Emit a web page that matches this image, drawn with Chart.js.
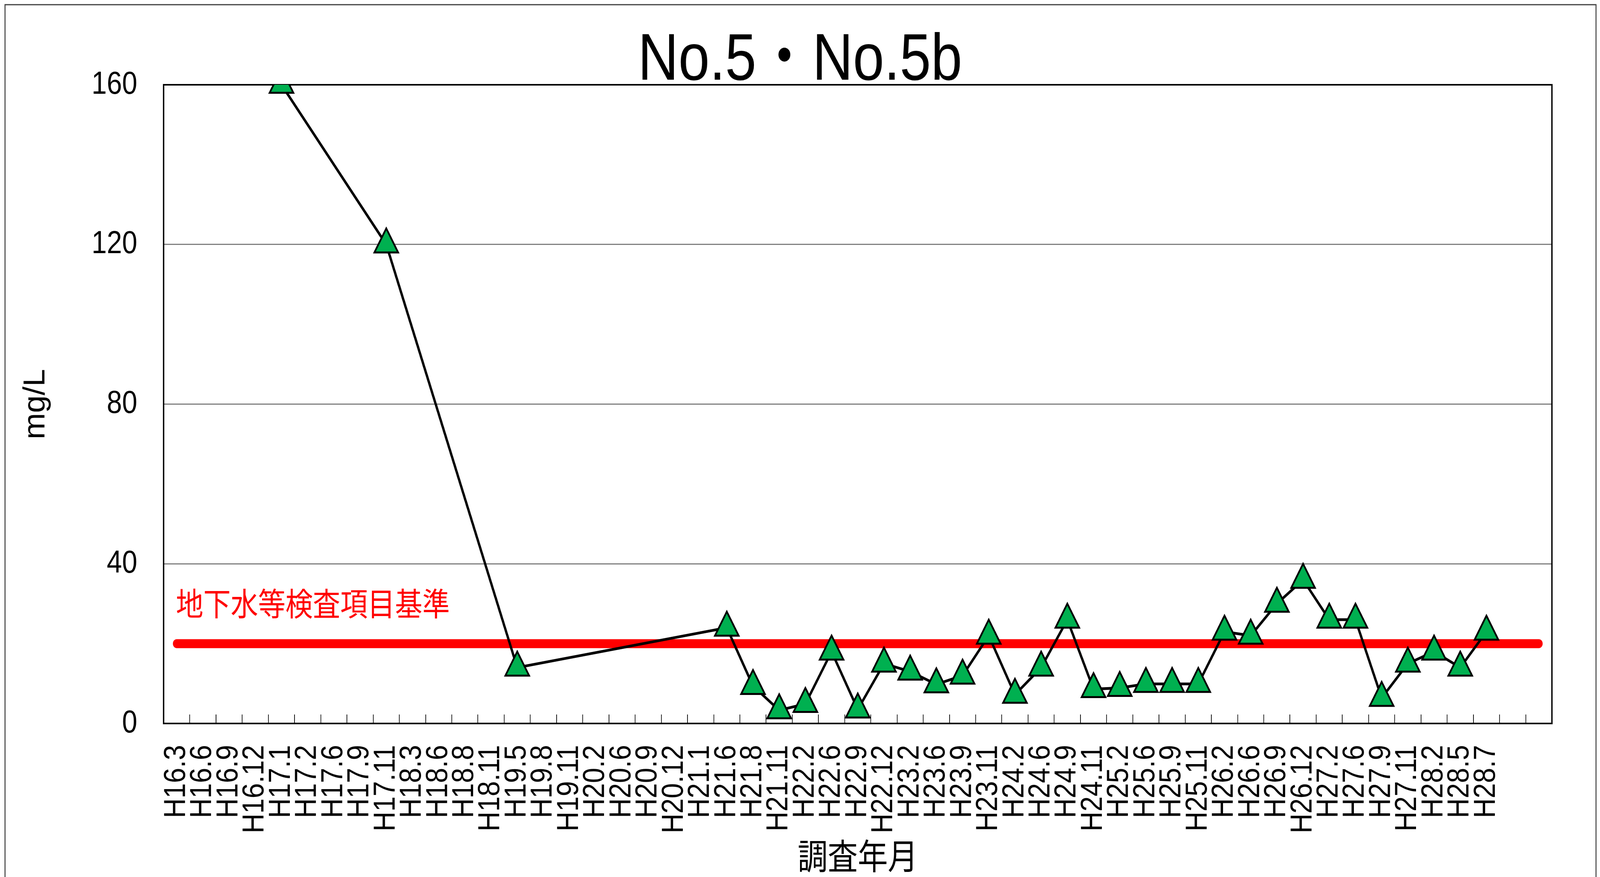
<!DOCTYPE html>
<html>
<head>
<meta charset="utf-8">
<script src="https://cdn.jsdelivr.net/npm/chart.js@4/dist/chart.umd.min.js"></script>
<style>
  html, body { margin: 0; padding: 0; background: #fff; overflow: hidden; }
</style>
</head>
<body>
<!-- the chart is drawn on a 4792x2245 sheet and shown fitted to the window -->
<canvas id="chart" width="4792" height="2245" style="display:block;width:100vw;height:100vh"></canvas>
<script>
// survey dates (last two slots are empty in the original sheet)
const labels = [
  "H16.3", "H16.6", "H16.9", "H16.12", "H17.1", "H17.2", "H17.6", "H17.9", "H17.11",
  "H18.3", "H18.6", "H18.8", "H18.11", "H19.5", "H19.8", "H19.11", "H20.2", "H20.6",
  "H20.9", "H20.12", "H21.1", "H21.6", "H21.8", "H21.11", "H22.2", "H22.6", "H22.9",
  "H22.12", "H23.2", "H23.6", "H23.9", "H23.11", "H24.2", "H24.6", "H24.9", "H24.11",
  "H25.2", "H25.6", "H25.9", "H25.11", "H26.2", "H26.6", "H26.9", "H26.12", "H27.2",
  "H27.6", "H27.9", "H27.11", "H28.2", "H28.5", "H28.7", "", ""
];

// measured values, mg/L
const values = [
  null, null, null, null, 160, null, null, null, 120,
  null, null, null, null, 14, null, null, null, null,
  null, null, null, 24, 9.4, 3.3, 4.9, 18, 3.5,
  15, 13, 9.8, 12, 22, 7.2, 14, 26, 8.6,
  8.9, 9.9, 9.9, 9.9, 23, 22, 30, 36, 26,
  26, 6.4, 15, 18, 14, 23, null, null
];

// groundwater standard line
const standard = [
  20, 20, 20, 20, 20, 20, 20, 20, 20, 20, 20, 20, 20, 20, 20, 20, 20, 20,
  20, 20, 20, 20, 20, 20, 20, 20, 20, 20, 20, 20, 20, 20, 20, 20, 20, 20,
  20, 20, 20, 20, 20, 20, 20, 20, 20, 20, 20, 20, 20, 20, 20, 20, 20
];

const yTicks = [0, 40, 80, 120, 160];

const titleText = "No.5・No.5b";
const yTitleText = "mg/L";
const xTitleText = "調査年月";
const standardText = "地下水等検査項目基準";

const decorations = {
  id: "decorations",
  beforeDraw(chart) {
    const ctx = chart.ctx;
    ctx.save();
    ctx.fillStyle = "#fff";
    ctx.fillRect(0, 0, chart.width, chart.height);
    ctx.strokeStyle = "#404040";
    ctx.lineWidth = 3;
    ctx.strokeRect(15, 12, chart.width - 27, chart.height + 20);
    ctx.restore();
  },
  beforeDatasetsDraw(chart) {
    const { ctx, chartArea } = chart;
    ctx.save();
    ctx.strokeStyle = "#000";
    ctx.lineWidth = 4;
    ctx.strokeRect(chartArea.left, chartArea.top,
      chartArea.right - chartArea.left, chartArea.bottom - chartArea.top);
    ctx.restore();
  },
  afterDraw(chart) {
    const { ctx, chartArea } = chart;
    const x = chart.scales.x;
    const y = chart.scales.y;
    ctx.save();

    // title
    ctx.fillStyle = "#000";
    ctx.font = '168px "Liberation Sans", "Noto Sans CJK JP", sans-serif';
    ctx.textAlign = "center";
    ctx.textBaseline = "alphabetic";
    ctx.fillText(titleText, chart.width / 2, chartArea.top - 13);

    // category labels, rotated and a little condensed like the original
    ctx.font = '90px "Liberation Sans", sans-serif';
    ctx.textAlign = "right";
    ctx.textBaseline = "middle";
    labels.forEach((lab, i) => {
      if (!lab) return;
      ctx.save();
      ctx.translate(x.getPixelForValue(i), chartArea.bottom + 55);
      ctx.rotate(-Math.PI / 2);
      ctx.scale(0.78, 1);
      ctx.fillText(lab, 0, 0);
      ctx.restore();
    });

    // y axis title
    ctx.save();
    ctx.font = '91px "Liberation Sans", sans-serif';
    ctx.textAlign = "center";
    ctx.textBaseline = "alphabetic";
    ctx.translate(133, (chartArea.top + chartArea.bottom) / 2);
    ctx.rotate(-Math.PI / 2);
    ctx.scale(0.89, 1);
    ctx.fillText(yTitleText, 0, 0);
    ctx.restore();

    // standard label
    ctx.fillStyle = "#FF0000";
    ctx.font = '82px "Noto Sans CJK JP", sans-serif';
    ctx.textAlign = "left";
    ctx.textBaseline = "middle";
    ctx.fillText(standardText, chartArea.left + 37, y.getPixelForValue(20) - 103);
    ctx.restore();
  }
};

const ctx = document.getElementById("chart").getContext("2d");
new Chart(ctx, {
  type: "line",
  data: {
    labels: labels,
    datasets: [
      {
        label: "No.5",
        data: values,
        spanGaps: true,
        borderColor: "#000",
        borderWidth: 7,
        pointStyle: "triangle",
        pointRadius: 41,
        pointBackgroundColor: "#00B050",
        pointBorderColor: "#000",
        pointBorderWidth: 5,
        order: 0
      },
      {
        label: "基準",
        data: standard,
        borderColor: "#FF0000",
        borderWidth: 23,
        borderCapStyle: "round",
        pointRadius: 0,
        order: 1
      }
    ]
  },
  options: {
    responsive: false,
    devicePixelRatio: 1,
    animation: false,
    layout: { padding: { top: 217, left: 0, right: 144, bottom: 0 } },
    plugins: {
      legend: { display: false },
      tooltip: { enabled: false },
      title: { display: false }
    },
    scales: {
      x: {
        offset: true,
        grid: {
          offset: true,
          drawOnChartArea: false,
          drawTicks: true,
          tickLength: -23,
          tickColor: "#000",
          lineWidth: 2
        },
        border: { display: false },
        ticks: { display: false, autoSkip: false },
        title: {
          display: true,
          text: xTitleText,
          color: "#000",
          font: { family: '"Noto Sans CJK JP"', size: 90, lineHeight: 1.2 },
          padding: { top: 0, bottom: 0 }
        },
        afterFit(scale) { scale.height = 393; }
      },
      y: {
        min: 0,
        max: 160,
        afterBuildTicks(scale) { scale.ticks = yTicks.map((v) => ({ value: v })); },
        grid: { color: "#808080", lineWidth: 3, drawTicks: false },
        border: { display: false },
        ticks: {
          padding: 79,
          color: "#000",
          font: { family: '"Liberation Sans"', size: 82 }
        },
        afterFit(scale) { scale.width = 490; }
      }
    }
  },
  plugins: [decorations]
});
</script>
</body>
</html>
